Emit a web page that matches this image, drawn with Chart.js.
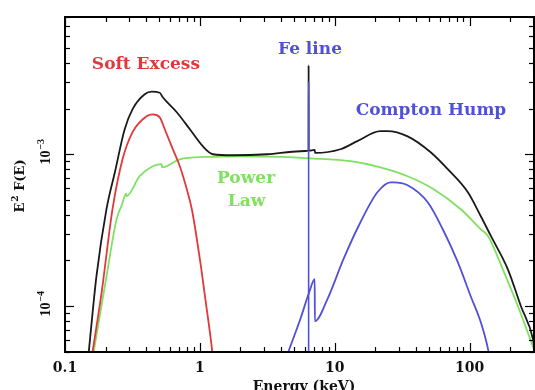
<!DOCTYPE html>
<html lang="en">
  <head>
    <meta charset="UTF-8" />
    <title>Spectral components</title>
    <script src="https://cdn.jsdelivr.net/npm/chart.js"></script>
    <style>
      body { margin: 0; background: #fff; }
    </style>
  </head>
  <body>
    <canvas id="spectrum" width="535" height="390"></canvas>
    <script>
      // energies in keV, E^2 F(E) values
      const totalE = [0.15, 0.171, 0.203, 0.235, 0.277, 0.317, 0.39, 0.44, 0.504, 0.531, 0.674, 0.843, 1.05, 1.25, 1.76, 3.15, 5.55, 6.39, 6.4, 6.41, 7.1, 7.15, 11.0, 14.7, 21.8, 24.6, 34.7, 51.4, 68.8, 97, 121, 144, 192, 240, 295, 300];
      const totalF = [5.0e-5, 1.57e-4, 4.35e-4, 7.7e-4, 1.46e-3, 1.98e-3, 2.48e-3, 2.58e-3, 2.54e-3, 2.37e-3, 1.89e-3, 1.46e-3, 1.13e-3, 1.0e-3, 9.85e-4, 1.0e-3, 1.047e-3, 1.055e-3, 3.86e-3, 1.055e-3, 1.07e-3, 1.02e-3, 1.079e-3, 1.22e-3, 1.42e-3, 1.42e-3, 1.31e-3, 1.03e-3, 7.97e-4, 5.62e-4, 3.91e-4, 2.89e-4, 1.75e-4, 1.0e-4, 6.07e-5, 5.5e-5];

      const softE = [0.16, 0.187, 0.225, 0.267, 0.317, 0.403, 0.447, 0.504, 0.549, 0.63, 0.71, 0.8, 0.872, 1.0, 1.1, 1.23, 1.25];
      const softF = [5.0e-5, 1.24e-4, 4.35e-4, 9.27e-4, 1.4e-3, 1.78e-3, 1.83e-3, 1.75e-3, 1.46e-3, 1.08e-3, 8.34e-4, 5.89e-4, 4.35e-4, 2.04e-4, 1.1e-4, 5.2e-5, 4.5e-5];

      const powerE = [0.163, 0.203, 0.241, 0.263, 0.284, 0.286, 0.358, 0.52, 0.525, 0.71, 1.13, 2.0, 4.0, 6.5, 13.1, 21.8, 34.7, 54.1, 86, 121, 137, 180, 228, 300];
      const powerF = [5.0e-5, 1.57e-4, 3.73e-4, 4.6e-4, 5.5e-4, 5.3e-4, 7.17e-4, 8.6e-4, 8.2e-4, 9.27e-4, 9.6e-4, 9.7e-4, 9.6e-4, 9.4e-4, 9.0e-4, 8.21e-4, 7.17e-4, 5.89e-4, 4.35e-4, 3.21e-4, 2.89e-4, 1.67e-4, 1.0e-4, 5.2e-5];

      const comptonE = [4.52, 5.55, 6.47, 7.1, 7.12, 8.81, 11.6, 15.5, 20.7, 25.9, 27.3, 34.7, 48.9, 63.2, 81.7, 102, 121, 137, 139];
      const comptonF = [5.0e-5, 8.21e-5, 1.24e-4, 1.51e-4, 7.97e-5, 1.11e-4, 2.04e-4, 3.57e-4, 5.62e-4, 6.54e-4, 6.54e-4, 6.25e-4, 4.83e-4, 3.21e-4, 1.95e-4, 1.16e-4, 7.85e-5, 5.2e-5, 4.8e-5];

      const feLineE = [6.4, 6.4];
      const feLineF = [5.0e-5, 3.0e-3];

      const xTickValues = [0.1, 1, 10, 100];
      const xTickLabels = ["0.1", "1", "10", "100"];
      const yTickValues = [1e-4, 1e-3];
      const yTickExps = ["\u22124", "\u22123"];

      const red = "#e0393c";
      const green = "#80e060";
      const blue = "#5050d8";

      function pts(xs, ys) {
        return xs.map((v, i) => ({ x: v, y: ys[i] }));
      }

      function line(ctx, x1, y1, x2, y2) {
        ctx.beginPath();
        ctx.moveTo(x1, y1);
        ctx.lineTo(x2, y2);
        ctx.stroke();
      }

      // boxed frame with inward ticks, labels and annotations
      const frame = {
        id: "frame",
        afterDatasetsDraw(chart) {
          const { ctx, chartArea: a } = chart;
          const xs = chart.scales.x;
          const ys = chart.scales.y;
          ctx.save();
          ctx.strokeStyle = "#000";
          ctx.lineWidth = 2;
          ctx.strokeRect(a.left, a.top, a.right - a.left, a.bottom - a.top);

          ctx.lineWidth = 1.2;
          for (let k = -1; k <= 2; k++) {
            for (let m = 1; m <= 9; m++) {
              const v = m * Math.pow(10, k);
              if (v < xs.min || v > xs.max) continue;
              const px = Math.round(xs.getPixelForValue(v)) + 0.5;
              const len = m === 1 ? 9 : 5;
              line(ctx, px, a.bottom, px, a.bottom - len);
              line(ctx, px, a.top, px, a.top + len);
            }
          }
          for (let k = -5; k <= -3; k++) {
            for (let m = 1; m <= 9; m++) {
              const v = m * Math.pow(10, k);
              if (v < ys.min * 0.999 || v > ys.max * 1.001) continue;
              const py = Math.round(ys.getPixelForValue(v)) + 0.5;
              const len = m === 1 ? 9 : 5;
              line(ctx, a.left, py, a.left + len, py);
              line(ctx, a.right, py, a.right - len, py);
            }
          }

          // x tick labels
          ctx.fillStyle = "#111";
          ctx.font = "bold 14px 'DejaVu Serif'";
          ctx.textAlign = "center";
          ctx.textBaseline = "middle";
          xTickValues.forEach((v, i) => {
            ctx.fillText(xTickLabels[i], xs.getPixelForValue(v), a.bottom + 16);
          });

          // y tick labels, rotated
          yTickValues.forEach((v, i) => {
            const py = ys.getPixelForValue(v);
            ctx.save();
            ctx.translate(a.left - 15, py);
            ctx.rotate(-Math.PI / 2);
            ctx.textAlign = "left";
            ctx.textBaseline = "alphabetic";
            ctx.font = "bold 14px 'Liberation Serif'";
            const w1 = ctx.measureText("10").width;
            ctx.font = "bold 10px 'Liberation Serif'";
            const w2 = ctx.measureText(yTickExps[i]).width;
            const x0 = -(w1 + w2) / 2 + 2;
            ctx.font = "bold 14px 'Liberation Serif'";
            ctx.fillText("10", x0, 0);
            ctx.font = "bold 10px 'Liberation Serif'";
            ctx.fillText(yTickExps[i], x0 + w1 + 1, -6);
            ctx.restore();
          });

          // y title
          ctx.save();
          ctx.translate(24, (a.top + a.bottom) / 2 + 2);
          ctx.rotate(-Math.PI / 2);
          ctx.textAlign = "left";
          ctx.textBaseline = "alphabetic";
          ctx.font = "bold 13px 'DejaVu Serif'";
          const wE = ctx.measureText("E").width;
          ctx.font = "bold 9px 'DejaVu Serif'";
          const w2 = ctx.measureText("2").width;
          ctx.font = "bold 13px 'DejaVu Serif'";
          const wF = ctx.measureText(" F(E)").width;
          let tx = -(wE + w2 + wF) / 2;
          ctx.fillText("E", tx, 0);
          ctx.font = "bold 9px 'DejaVu Serif'";
          ctx.fillText("2", tx + wE + 1, -6);
          ctx.font = "bold 13px 'DejaVu Serif'";
          ctx.fillText(" F(E)", tx + wE + w2 + 1, 0);
          ctx.restore();

          // x title
          ctx.font = "bold 14px 'DejaVu Serif'";
          ctx.textAlign = "center";
          ctx.textBaseline = "alphabetic";
          ctx.fillText("Energy (keV)", 304, a.bottom + 39);

          // component annotations
          ctx.font = "bold 17px 'DejaVu Serif'";
          ctx.textBaseline = "middle";
          const notes = [
            ["Soft Excess", 0.398, 3.91e-3, red],
            ["Fe line", 6.55, 4.91e-3, blue],
            ["Compton Hump", 51.7, 1.95e-3, blue],
            ["Power", 2.2, 6.95e-4, green],
            ["Law", 2.22, 4.91e-4, green],
          ];
          notes.forEach(([t, e, f, c]) => {
            ctx.fillStyle = c;
            ctx.fillText(t, xs.getPixelForValue(e), ys.getPixelForValue(f));
          });
          ctx.restore();
        },
      };

      const ds = (label, data, color, width, smooth) => ({
        label: label,
        data: data,
        borderColor: color,
        backgroundColor: color,
        borderWidth: width,
        pointRadius: 0,
        fill: false,
        cubicInterpolationMode: smooth ? "monotone" : "default",
        tension: 0,
      });

      new Chart(document.getElementById("spectrum"), {
        type: "line",
        data: {
          datasets: [
            ds("Fe line", pts(feLineE, feLineF), blue, 1.6, false),
            ds("Total", pts(totalE, totalF), "#1a1a1a", 1.8, true),
            ds("Soft Excess", pts(softE, softF), red, 1.8, true),
            ds("Power Law", pts(powerE, powerF), green, 1.8, true),
            ds("Compton Hump", pts(comptonE, comptonF), blue, 1.8, true),
          ],
        },
        options: {
          responsive: false,
          animation: false,
          layout: { padding: { left: 65, top: 17, right: 1, bottom: 38 } },
          scales: {
            x: { type: "logarithmic", min: 0.1, max: 300, bounds: "data", display: false },
            y: { type: "logarithmic", min: 5e-5, max: 8e-3, bounds: "data", display: false },
          },
          plugins: {
            legend: { display: false },
            tooltip: { enabled: false },
          },
        },
        plugins: [frame],
      });
    </script>
  </body>
</html>
